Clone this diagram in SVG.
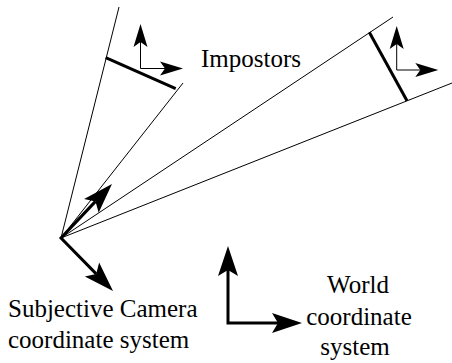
<svg xmlns="http://www.w3.org/2000/svg" width="452" height="363" viewBox="0 0 452 363">
<style>
.thin{stroke:#000;stroke-width:1;fill:none}
.thick{stroke:#000;stroke-width:3;fill:none}
.ax-thin{stroke:#000;stroke-width:1;fill:none;stroke-linejoin:miter;marker-start:url(#ahThin);marker-end:url(#ahThin)}
.ax-thick{stroke:#000;stroke-width:3;fill:none;stroke-linejoin:miter;marker-start:url(#ahThick);marker-end:url(#ahThick)}
.lbl{font-size:25px;fill:#000}
</style>
<defs>
<marker id="ahThin" markerUnits="userSpaceOnUse" orient="auto-start-reverse" markerWidth="26" markerHeight="16" viewBox="-6 -8 26 16" refX="0" refY="0" overflow="visible">
<path d="M0 0 L-5 -7 L18 0 L-5 7 Z" fill="#000"/>
</marker>
<marker id="ahThick" markerUnits="userSpaceOnUse" orient="auto-start-reverse" markerWidth="34" markerHeight="24" viewBox="-8 -12 34 24" refX="0" refY="0" overflow="visible">
<path d="M0 0 L-6 -10 L24 0 L-6 10 Z" fill="#000"/>
</marker>
</defs>
<rect width="452" height="363" fill="#fff"/>
<g id="connectors">
<line class="thin" x1="61" y1="238" x2="119" y2="7"/>
<line class="thin" x1="61" y1="238" x2="183" y2="83"/>
<line class="thin" x1="61" y1="238" x2="393" y2="17"/>
<line class="thin" x1="61" y1="238" x2="452" y2="83"/>
</g>
<g id="impostor1">
<line class="thick" x1="105.7" y1="57.7" x2="175.7" y2="88.7"/>
<polyline class="ax-thin" points="140.5,42 140.5,68.5 165,68.5"/>
</g>
<g id="impostor2">
<line class="thick" x1="369.3" y1="32.3" x2="407" y2="100.7"/>
<polyline class="ax-thin" points="396.7,44 396.7,70 420.3,70"/>
</g>
<g id="impostors-label">
<text class="lbl" font-family="Liberation Serif, DejaVu Serif, serif" x="201" y="67">Impostors</text>
</g>
<g id="camera">
<polyline class="ax-thick" points="95.5,201.4 61,238 96.2,273.9"/>
<text class="lbl" font-family="Liberation Serif, DejaVu Serif, serif" x="8" y="317">Subjective Camera</text>
<text class="lbl" font-family="Liberation Serif, DejaVu Serif, serif" x="8" y="348">coordinate system</text>
</g>
<g id="world">
<polyline class="ax-thick" points="228,270 228,323 278,323"/>
<text class="lbl" font-family="Liberation Serif, DejaVu Serif, serif" x="358" y="293" text-anchor="middle">World</text>
<text class="lbl" font-family="Liberation Serif, DejaVu Serif, serif" x="359" y="325" text-anchor="middle">coordinate</text>
<text class="lbl" font-family="Liberation Serif, DejaVu Serif, serif" x="355" y="355" text-anchor="middle">system</text>
</g>
</svg>
